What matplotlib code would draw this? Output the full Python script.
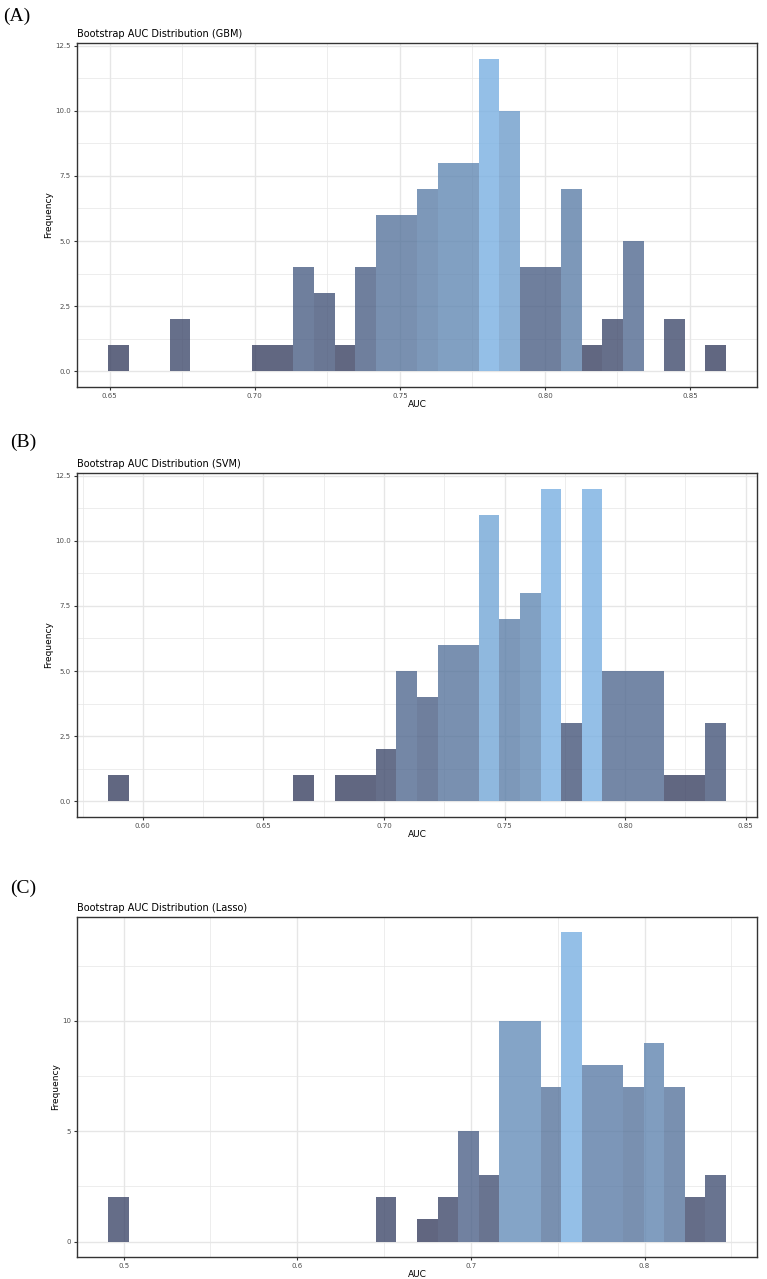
import numpy as np
import matplotlib
matplotlib.use("Agg")
import matplotlib.pyplot as plt
from matplotlib.colors import to_rgb

# bin counts (30 bins each), plus first/last bin centres
gbm_range = (0.6529, 0.8589)
gbm_counts = [1, 0, 0, 2, 0, 0, 0, 1, 1, 4, 3, 1, 4, 6, 6, 7, 8, 8, 12, 10,
              4, 4, 7, 1, 2, 5, 0, 2, 0, 1]
svm_range = (0.5898, 0.8376)
svm_counts = [1, 0, 0, 0, 0, 0, 0, 0, 0, 1, 0, 1, 1, 2, 5, 4, 6, 6, 11, 7,
              8, 12, 3, 12, 5, 5, 5, 1, 1, 3]
lasso_range = (0.4969, 0.8410)
lasso_counts = [2, 0, 0, 0, 0, 0, 0, 0, 0, 0, 0, 0, 0, 2, 0, 1, 2, 5, 3, 10,
                10, 7, 14, 8, 8, 7, 9, 7, 2, 3]

gbm_xticks = [0.65, 0.70, 0.75, 0.80, 0.85]
gbm_xlabels = ["0.65", "0.70", "0.75", "0.80", "0.85"]
svm_xticks = [0.60, 0.65, 0.70, 0.75, 0.80, 0.85]
svm_xlabels = ["0.60", "0.65", "0.70", "0.75", "0.80", "0.85"]
lasso_xticks = [0.5, 0.6, 0.7, 0.8]
lasso_xlabels = ["0.5", "0.6", "0.7", "0.8"]
y_ticks_a = [0, 2.5, 5, 7.5, 10, 12.5]
y_labels_a = ["0.0", "2.5", "5.0", "7.5", "10.0", "12.5"]
y_ticks_c = [0, 5, 10]
y_labels_c = ["0", "5", "10"]

LOW = np.array(to_rgb("#343756"))
HIGH = np.array(to_rgb("#79b0e2"))
GRID = "#e6e6e6"
BORDER = "#333333"

W, H = 767, 1279
fig = plt.figure(figsize=(W / 100, H / 100), dpi=100)
fig.patch.set_facecolor("white")


def draw_panel(box, tag, tag_xy, title, centre_range, counts, xticks, xlabels, yticks, ylabels):
    left, top, right, bottom = box
    ax = fig.add_axes([left / W, 1 - bottom / H, (right - left) / W, (bottom - top) / H])
    counts = np.array(counts, dtype=float)
    centres = np.linspace(centre_range[0], centre_range[1], len(counts))
    width = centres[1] - centres[0]
    frac = counts / counts.max()
    colors = [tuple(LOW + (HIGH - LOW) * f) for f in frac]
    ax.bar(centres, counts, width=width, color=colors, alpha=0.8, linewidth=0, zorder=3)

    lo = centres[0] - width / 2
    hi = centres[-1] + width / 2
    pad = (hi - lo) * 0.05
    ymax = counts.max()

    ax.set_xticks(xticks)
    ax.set_xticklabels(xlabels)
    ax.set_yticks(yticks)
    ax.set_yticklabels(ylabels)
    xstep = xticks[1] - xticks[0]
    ystep = yticks[1] - yticks[0]
    ax.set_xticks(np.arange(xticks[0] - xstep / 2, hi + pad, xstep), minor=True)
    ax.set_yticks(np.arange(ystep / 2, ymax * 1.05, ystep), minor=True)
    # limits after the ticks, otherwise set_xticks widens the view
    ax.set_xlim(lo - pad, hi + pad)
    ax.set_ylim(-ymax * 0.05, ymax * 1.05)

    ax.tick_params(which="minor", length=0)
    ax.grid(True, which="major", color=GRID, linewidth=1.0, zorder=0)
    ax.grid(True, which="minor", color=GRID, linewidth=0.5, zorder=0)
    ax.set_axisbelow(True)
    ax.tick_params(which="major", length=2.5, width=0.8, color=BORDER,
                   labelsize=5, labelcolor="#4d4d4d", pad=2)
    for sp in ax.spines.values():
        sp.set_color(BORDER)
        sp.set_linewidth(1.0)

    ax.set_xlabel("AUC", fontsize=6.5, labelpad=0.5)
    ax.set_ylabel("Frequency", fontsize=6.5, labelpad=1.5)
    ax.set_title(title, loc="left", fontsize=7, pad=4)
    fig.text(tag_xy[0] / W, 1 - tag_xy[1] / H, tag, fontsize=14, family="Liberation Serif",
             va="center", ha="left")
    return ax


draw_panel((77, 43, 757, 387), "(A)", (3, 16), "Bootstrap AUC Distribution (GBM)",
           gbm_range, gbm_counts, gbm_xticks, gbm_xlabels, y_ticks_a, y_labels_a)
draw_panel((77, 473, 757, 817), "(B)", (10, 442), "Bootstrap AUC Distribution (SVM)",
           svm_range, svm_counts, svm_xticks, svm_xlabels, y_ticks_a, y_labels_a)
draw_panel((77, 917, 757, 1257), "(C)", (10, 888), "Bootstrap AUC Distribution (Lasso)",
           lasso_range, lasso_counts, lasso_xticks, lasso_xlabels, y_ticks_c, y_labels_c)

fig.savefig("out.png", dpi=100, facecolor="white")
